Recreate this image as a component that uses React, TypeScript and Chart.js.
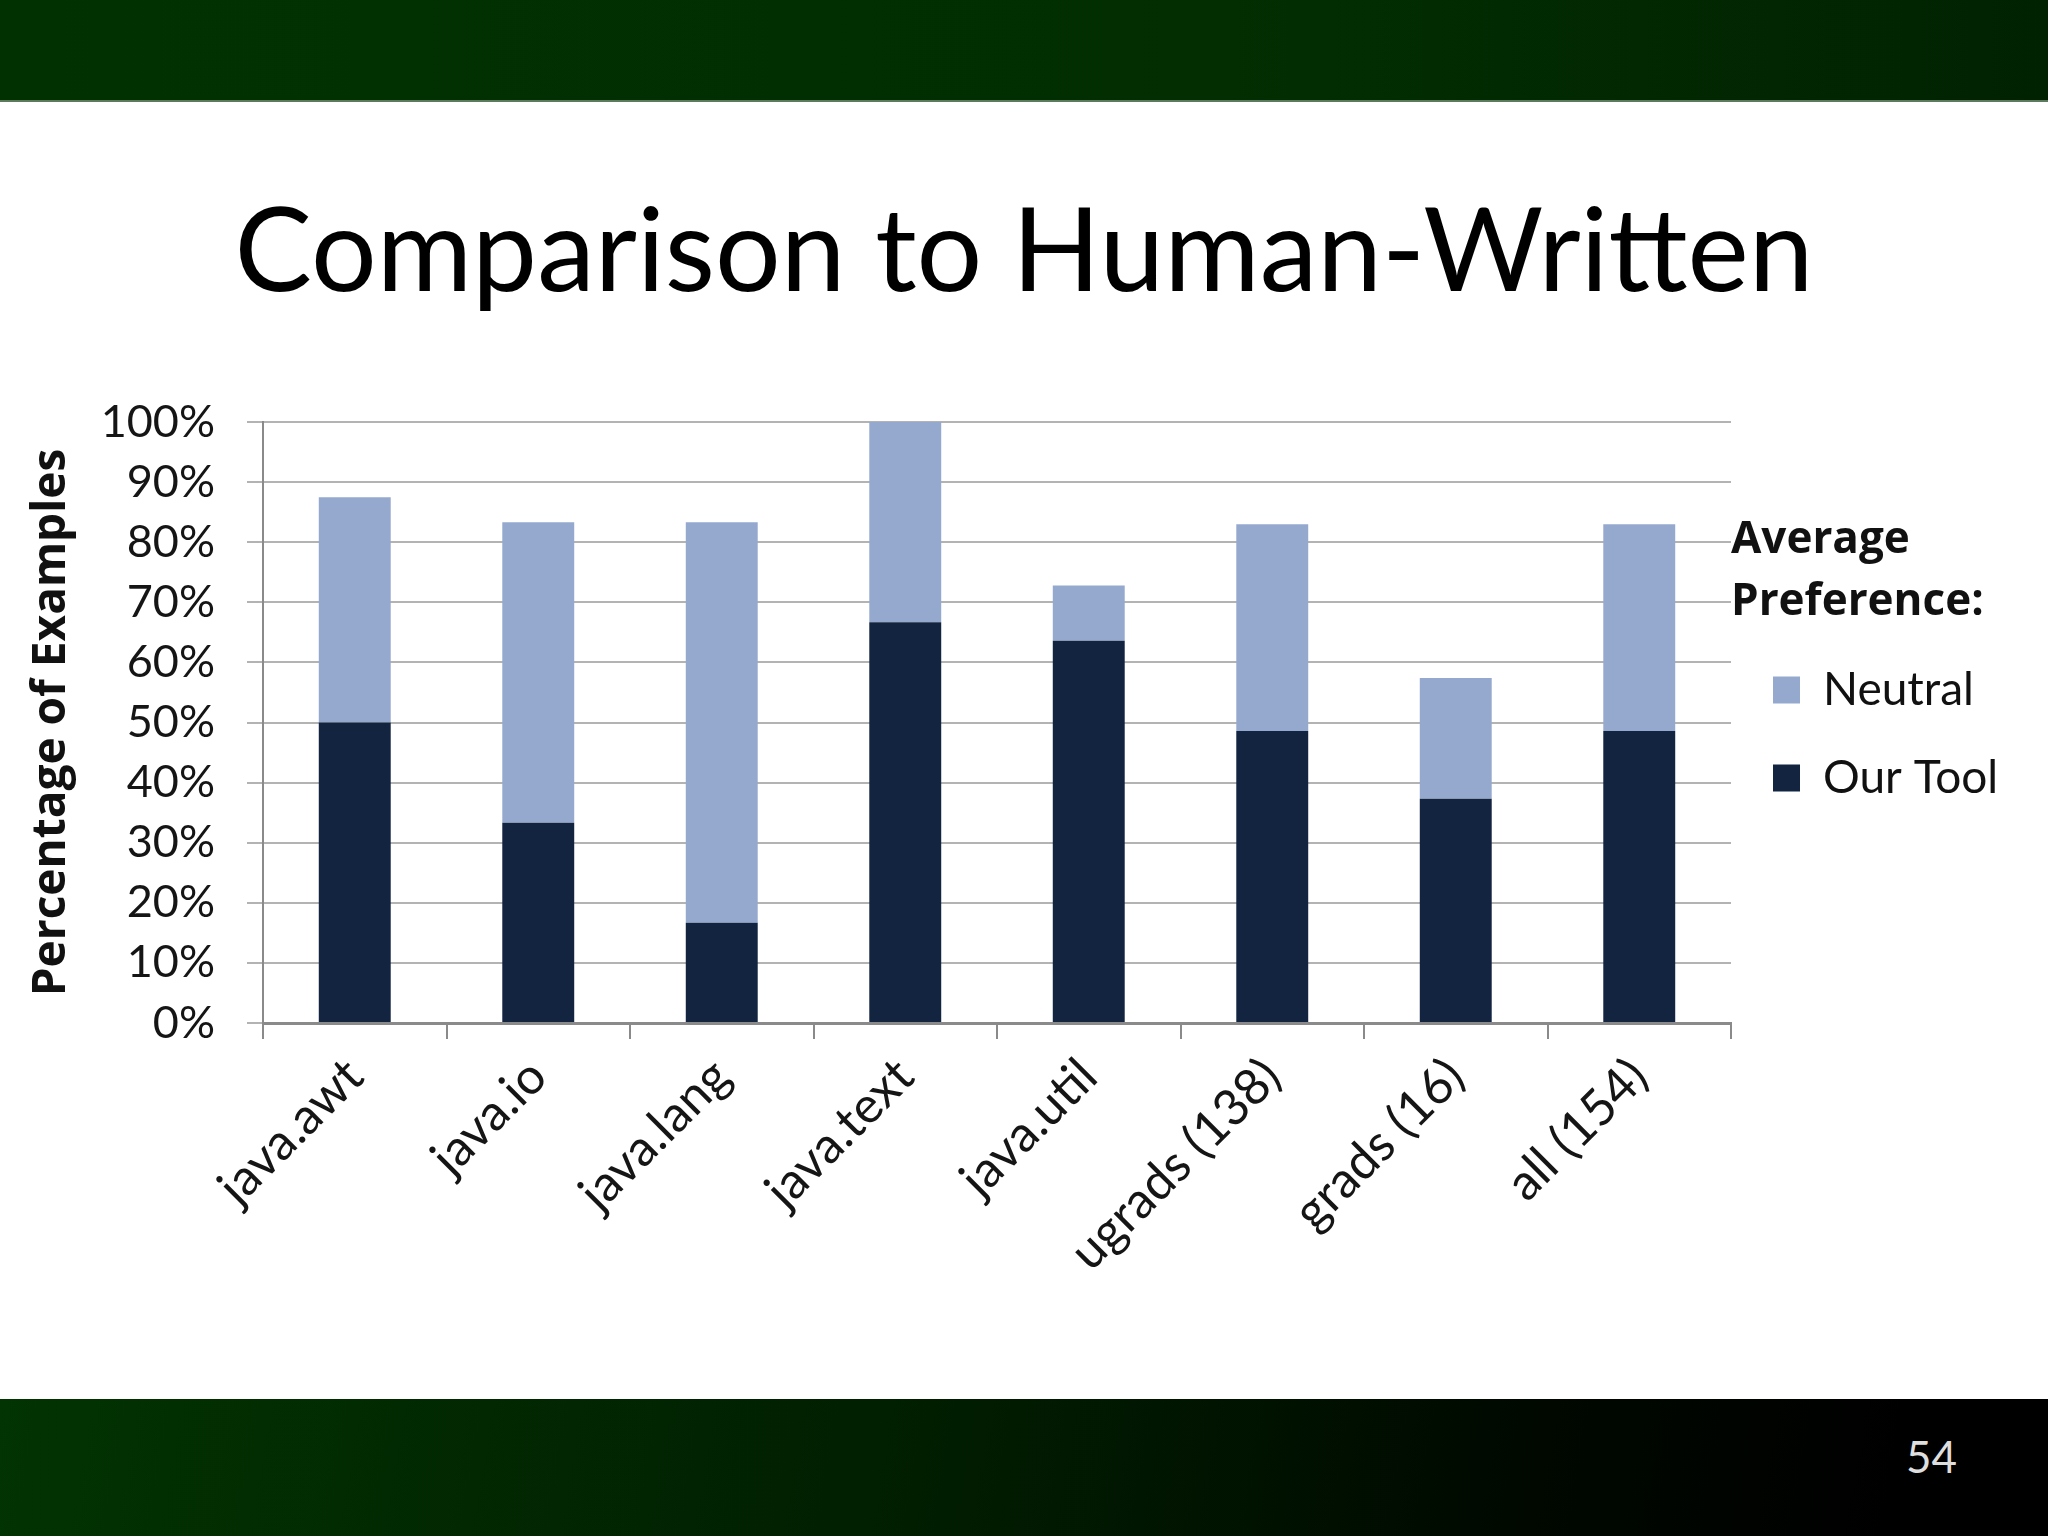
import { useEffect, useRef } from 'react'
import Chart from 'chart.js/auto'

const categories = ['java.awt', 'java.io', 'java.lang', 'java.text', 'java.util', 'ugrads (138)', 'grads (16)', 'all (154)']
const ourTool = [50, 33.3, 16.7, 66.7, 63.6, 48.6, 37.3, 48.6]
const neutral = [37.5, 50, 66.6, 33.3, 9.2, 34.4, 20.1, 34.4]
const legendTitle = ['Average', 'Preference:']
const seriesNames = ['Our Tool', 'Neutral']

export default function App() {
  const canvasRef = useRef<HTMLCanvasElement | null>(null)

  useEffect(() => {
    document.body.style.margin = '0'
    const ctx = canvasRef.current?.getContext('2d')
    if (!ctx) return

    Chart.defaults.font.family = 'Lato'
    Chart.defaults.color = '#151515'

    // legend sits right of the plot; work out its width so the plot ends at x=1731
    const legendFont = 46
    const legendPad = 42
    const boxSize = 27
    ctx.font = `${legendFont}px Lato`
    const textW = Math.max(...seriesNames.map(t => ctx.measureText(t).width))
    const legendW = legendPad + boxSize + legendFont / 2 + textW + 10
    const padRight = Math.max(0, 2048 - 1731 - legendW)

    const chart = new Chart(ctx, {
      type: 'bar',
      data: {
        labels: categories,
        datasets: [
          { label: seriesNames[0], data: ourTool, backgroundColor: '#132440' },
          { label: seriesNames[1], data: neutral, backgroundColor: '#95a9cf' }
        ]
      },
      options: {
        animation: false,
        responsive: true,
        maintainAspectRatio: false,
        datasets: { bar: { categoryPercentage: 1, barPercentage: 0.392 } },
        layout: { padding: { top: 422, left: 0, right: padRight, bottom: 0 } },
        plugins: {
          tooltip: { enabled: false },
          legend: {
            position: 'right',
            align: 'start',
            fullSize: false,
            reverse: true,
            title: {
              display: true,
              text: legendTitle,
              position: 'start',
              color: '#111',
              font: { family: 'Open Sans', weight: 'bold', size: 44, lineHeight: 1.43 },
              padding: { top: 96, bottom: 44 }
            },
            labels: {
              boxWidth: boxSize,
              boxHeight: boxSize,
              padding: legendPad,
              color: '#111',
              font: { size: legendFont }
            }
          }
        },
        scales: {
          x: {
            stacked: true,
            afterFit: (s: any) => { s.height = 1536 - 1023 },
            grid: { drawOnChartArea: false, drawTicks: true, tickLength: 16, color: '#8a8a8a', lineWidth: 2 },
            border: { color: '#8a8a8a', width: 3 },
            ticks: { maxRotation: 45, minRotation: 45, padding: 8, color: '#151515', font: { size: 50 } }
          },
          y: {
            stacked: true,
            min: 0,
            max: 100,
            afterFit: (s: any) => { s.width = 263 },
            grid: { color: '#b3b3b3', lineWidth: 2, tickLength: 16 },
            border: { color: '#8a8a8a', width: 2 },
            ticks: { stepSize: 10, padding: 32, color: '#151515', font: { size: 45 }, callback: (v: any) => v + '%' },
            title: {
              display: true,
              text: 'Percentage of Examples',
              color: '#111',
              font: { family: 'Open Sans', weight: 'bold', size: 46 },
              padding: { top: 24, bottom: 0 }
            }
          }
        }
      }
    })

    return () => chart.destroy()
  }, [])

  return (
    <div style={{ position: 'fixed', left: 0, top: 0, width: 2048, height: 1536, overflow: 'hidden', background: '#fff', fontFamily: 'Lato' }}>
      <div style={{ position: 'absolute', left: 0, top: 0, width: 2048, height: 100, background: 'linear-gradient(90deg, #013101 0%, #022e02 60%, #012201 100%)' }} />
      <div style={{ position: 'absolute', left: 0, top: 100, width: 2048, height: 2, background: '#5c7a5c' }} />
      <div style={{ position: 'absolute', left: 0, top: 189, width: 2048, textAlign: 'center', fontSize: 116, lineHeight: 1, color: '#000' }}>
        Comparison to Human-Written
      </div>
      <div style={{ position: 'absolute', left: 0, top: 1399, width: 2048, height: 137, background: 'linear-gradient(100deg, #023302 0%, #011e01 45%, #000800 75%, #000 92%)' }} />
      <div style={{ position: 'absolute', left: 1906, top: 1434, fontSize: 44, lineHeight: 1, color: '#dedede' }}>54</div>
      <div style={{ position: 'absolute', left: 0, top: 0, width: 2048, height: 1536 }}>
        <canvas ref={canvasRef} />
      </div>
    </div>
  )
}
